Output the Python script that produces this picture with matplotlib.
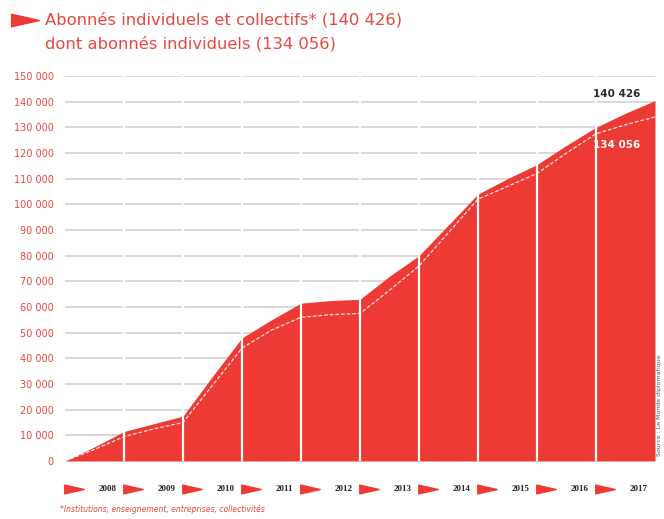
import matplotlib.pyplot as plt
import matplotlib.transforms as mtransforms
from matplotlib.path import Path

# Abonnés en fin d'année, avec un relevé en milieu d'année
years = ["2008", "2009", "2010", "2011", "2012", "2013", "2014", "2015", "2016", "2017"]
pos = [0, 0.5, 1, 1.5, 2, 2.5, 3, 3.5, 4, 4.5, 5, 5.5, 6, 6.5, 7, 7.5, 8, 8.5, 9, 9.5, 10]
total = [0, 5500, 11500, 14500, 17500, 33000, 48000, 55000, 61500, 62500, 63000,
         72000, 80000, 92000, 104000, 110000, 115500, 123000, 130000, 135500, 140426]
individuels = [0, 4500, 9500, 12500, 15000, 29500, 44000, 51000, 56000, 57000, 57500,
               66500, 76000, 89000, 102000, 107000, 112000, 120000, 127500, 131000, 134056]

RED = "#ee3a35"
TXT_RED = "#e8473f"

fig = plt.figure(figsize=(6.64, 5.19), dpi=100)
ax = fig.add_axes([65 / 664, 58 / 519, 590 / 664, 385 / 519])
ax.set_xlim(0, 10)
ax.set_ylim(0, 150000)

ax.set_yticks(range(0, 150001, 10000))
ax.set_yticklabels(["0"] + [f"{v // 1000} 000" for v in range(10000, 150001, 10000)],
                   fontsize=7, color=TXT_RED)
ax.tick_params(axis="y", length=0, pad=8)
ax.set_xticks([])
for s in ax.spines.values():
    s.set_visible(False)
ax.grid(axis="y", color="#d6d6d6", linewidth=1.3, zorder=0)
ax.set_axisbelow(True)

ax.fill_between(pos, total, color=RED, linewidth=0, zorder=2)
ax.plot(pos, individuels, color="white", linewidth=0.9, linestyle=(0, (3, 1.5)),
        alpha=0.85, zorder=3)

# séparations blanches entre les années
for i in range(1, 10):
    ax.axvline(i, color="white", linewidth=1.6, zorder=4)

ax.text(9.75, 143000, "140 426", fontsize=7.5, fontweight="bold",
        color="#2a2a2a", ha="right", va="center", zorder=5)
ax.text(9.75, 123000, "134 056", fontsize=7.5, fontweight="bold",
        color="white", ha="right", va="center", zorder=5)

# flèches et années sous l'axe
arrow = Path([(-1, -0.45), (1, 0), (-1, 0.45), (-1, -0.45)],
             [Path.MOVETO, Path.LINETO, Path.LINETO, Path.CLOSEPOLY])
trans = mtransforms.blended_transform_factory(ax.transData, ax.transAxes)
for i, yr in enumerate(years):
    ax.plot(i + 0.16, -0.072, marker=arrow, markersize=14, color=RED,
            transform=trans, clip_on=False, linestyle="none")
    ax.text(i + 0.72, -0.072, yr, fontsize=6.5, color="#222222", ha="center",
            va="center", transform=trans, fontfamily="Liberation Serif",
            fontweight="bold")

# légende en tête
fig.lines.append(plt.Line2D([25 / 664], [1 - 20 / 519], marker=arrow, markersize=20,
                            color=RED, transform=fig.transFigure, linestyle="none"))
fig.text(45 / 664, 1 - 20 / 519, "Abonnés individuels et collectifs* (140 426)",
         fontsize=11.8, color=TXT_RED, va="center", fontfamily="DejaVu Sans")
fig.text(45 / 664, 1 - 44 / 519, "dont abonnés individuels (134 056)",
         fontsize=11.8, color=TXT_RED, va="center", fontfamily="DejaVu Sans")

fig.text(60 / 664, 1 - 509 / 519,
         "*Institutions, enseignement, entreprises, collectivités",
         fontsize=5.5, color=TXT_RED, style="italic", va="center")
fig.text(659 / 664, 1 - 405 / 519, "Source : Le Monde diplomatique", fontsize=4.5,
         color="#555555", rotation=90, ha="center", va="center")

fig.savefig("out.png", dpi=100)
